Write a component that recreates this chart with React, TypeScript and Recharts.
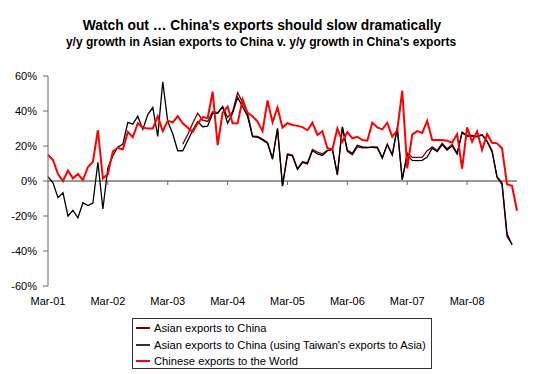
import React from "react";
import {
  LineChart,
  Line,
  XAxis,
  YAxis,
  ReferenceLine,
} from "recharts";

// monthly, Mar-01 .. Jan-09
const MONTH_NAMES = ["Jan", "Feb", "Mar", "Apr", "May", "Jun", "Jul", "Aug", "Sep", "Oct", "Nov", "Dec"];
const MONTHS: string[] = [];
for (let i = 0; i < 95; i++) {
  const m = (2 + i) % 12;
  const y = 1 + Math.floor((2 + i) / 12);
  MONTHS.push(`${MONTH_NAMES[m]}-${String(y).padStart(2, "0")}`);
}

const X_TICKS = ["Mar-01", "Mar-02", "Mar-03", "Mar-04", "Mar-05", "Mar-06", "Mar-07", "Mar-08"];
const Y_TICKS = [-60, -40, -20, 0, 20, 40, 60];

// y/y %, Asian exports to China
const ASIA_TO_CHINA: (number | null)[] = [
  null, null, null, null, null, null, null, null, null, null,
  null, null, null, null, null, null, null, null, null, null,
  null, null, null, null, null, null, null, 21, 26.5, 33,
  38.7, 34.8, 34, 39.6, 39, 42.5, 36.4, 39.6, 50.5, 44.8,
  38.7, 25.7, 25.5, 24, 22, 13, 30, -2.5, 15.5, 14.8,
  7, 11, 10.5, 18, 16.5, 15.5, 17.5, 18.3, 3.8, 30.5,
  17, 15, 19.5, 19, 19, 19.5, 19.5, 13.5, 21, 15,
  30, 1, 16, 13.5, 13.5, 13.5, 17.3, 19.5, 17.5, 21.5,
  18.5, 21, 16, 28, 26, 26, 25.5, 26.5, 23, 17.5,
  2, -2, -31.8, -36, null,
];

// y/y %, Asian exports to China (using Taiwan's exports to Asia)
const ASIA_TO_CHINA_TW: (number | null)[] = [
  2.5, -1, -9.5, -6.7, -20, -16.8, -21, -12.4, -14, -12.6,
  10.7, -16, 7.5, 14.5, 19.5, 21, 33.5, 32.5, 37, 29.5,
  38, 42, 25.5, 56.7, 34, 27, 17.3, 17.3, 23, 29,
  34, 31, 31.4, 38.7, 38.7, 42.5, 33, 38.7, 47.8, 42.5,
  37, 25.3, 25, 23.5, 21.5, 12.4, 30, -3, 15, 14.3,
  6.7, 10.7, 9.7, 17.3, 15.5, 14.6, 17.3, 18, 3.4, 31,
  17.5, 15.8, 20.4, 19.5, 19.2, 19.2, 19, 13, 20.8, 14.9,
  30.5, 0.6, 14.9, 11.8, 11.6, 11.8, 13.7, 18.7, 16.8, 20.8,
  17.7, 20, 15.4, 27.6, 25.7, 25.7, 25.3, 26.3, 22.5, 16.8,
  2.5, -1.1, -30, -36.6, null,
];

// y/y %, Chinese exports to the World
const CHINA_TO_WORLD: number[] = [
  15, 12, 4, 0, 6, 1.5, 4, 0.5, 8, 11,
  29, 1.5, 4, 17, 19, 18, 28, 25, 33, 30.5,
  30, 30, 37, 28.5, 34.5, 33.5, 37, 33, 30.5, 28,
  33, 36.5, 36, 51, 20.5, 39, 42.5, 33, 33, 46.5,
  39, 37, 34, 28.5, 46, 33.5, 42, 30.5, 33, 32,
  31.5, 30.8, 29, 33.3, 26.3, 28.5, 18.7, 18, 30, 22.5,
  28, 24.4, 25.3, 23.4, 23, 33.3, 30.6, 29.5, 33.3, 25.3,
  29, 51.6, 7.2, 26.5, 28.5, 27.5, 34.3, 23.4, 23.4, 23.4,
  23, 22, 26.8, 7, 30.6, 22.5, 28.4, 17.7, 26.8, 21.8,
  21.5, 18.7, -1.9, -2.8, -17,
];

const data = MONTHS.map((month, i) => ({
  month,
  asia: ASIA_TO_CHINA[i],
  asiaTw: ASIA_TO_CHINA_TW[i],
  china: CHINA_TO_WORLD[i],
}));

const FONT = "'Liberation Sans', Arial, sans-serif";

const LEGEND_ITEMS = [
  { label: "Asian exports to China", color: "#800000" },
  { label: "Asian exports to China (using Taiwan's exports to Asia)", color: "#333333" },
  { label: "Chinese exports to the World", color: "#ff0000" },
];

function LegendBox() {
  return (
    <div
      style={{
        position: "absolute",
        left: 132,
        top: 318,
        border: "1px solid #333",
        width: 300,
        height: 51,
        padding: "1px 0 0 3px",
        boxSizing: "border-box",
        background: "#fff",
      }}
    >
      {LEGEND_ITEMS.map((it) => (
        <div key={it.label} style={{ display: "flex", alignItems: "center", height: 16.5 }}>
          <span style={{ display: "inline-block", width: 14, height: 2, background: it.color, marginRight: 4 }} />
          <span style={{ fontSize: 11.2, fontFamily: FONT, color: "#000", whiteSpace: "nowrap" }}>{it.label}</span>
        </div>
      ))}
    </div>
  );
}

export default function App() {
  return (
    <div style={{ position: "absolute", left: 0, top: 0, width: 547, height: 374, background: "#fff" }}>
      <LineChart
        width={547}
        height={374}
        data={data}
        margin={{ top: 76, right: 30, bottom: 68, left: 0 }}
        style={{ position: "absolute", left: 0, top: 0 }}
      >
        <XAxis
          dataKey="month"
          ticks={X_TICKS}
          interval={0}
          axisLine={false}
          tickLine={false}
          tickMargin={5}
          height={20}
          tick={{ fontSize: 11, fontFamily: FONT, fill: "#000" }}
        />
        <YAxis
          domain={[-60, 60]}
          ticks={Y_TICKS}
          width={48}
          tickFormatter={(v: number) => `${v}%`}
          axisLine={{ stroke: "#666" }}
          tickLine={{ stroke: "#666" }}
          tickSize={5}
          tickMargin={6}
          tick={{ fontSize: 11, fontFamily: FONT, fill: "#000" }}
        />
        <ReferenceLine y={0} stroke="#999" strokeWidth={2} />
        {X_TICKS.slice(1).map((t) => (
          <ReferenceLine
            key={t}
            segment={[
              { x: t, y: 0 },
              { x: t, y: -2.3 },
            ]}
            stroke="#666"
            strokeWidth={1}
          />
        ))}
        <Line
          type="linear"
          dataKey="asia"
          stroke="#800000"
          strokeWidth={1.3}
          dot={false}
          isAnimationActive={false}
          connectNulls={false}
        />
        <Line
          type="linear"
          dataKey="asiaTw"
          stroke="#000"
          strokeWidth={1.3}
          dot={false}
          isAnimationActive={false}
        />
        <Line
          type="linear"
          dataKey="china"
          stroke="#ff0000"
          strokeWidth={2}
          dot={false}
          isAnimationActive={false}
        />
      </LineChart>
      <div
        style={{
          position: "absolute",
          left: 0,
          width: 524,
          top: 18,
          textAlign: "center",
          fontFamily: FONT,
          fontWeight: "bold",
          fontSize: 13.8,
          color: "#000",
        }}
      >
        Watch out … China's exports should slow dramatically
      </div>
      <div
        style={{
          position: "absolute",
          left: 0,
          width: 522,
          top: 35,
          textAlign: "center",
          fontFamily: FONT,
          fontWeight: "bold",
          fontSize: 12,
          color: "#000",
        }}
      >
        y/y growth in Asian exports to China v. y/y growth in China's exports
      </div>
      <LegendBox />
    </div>
  );
}
